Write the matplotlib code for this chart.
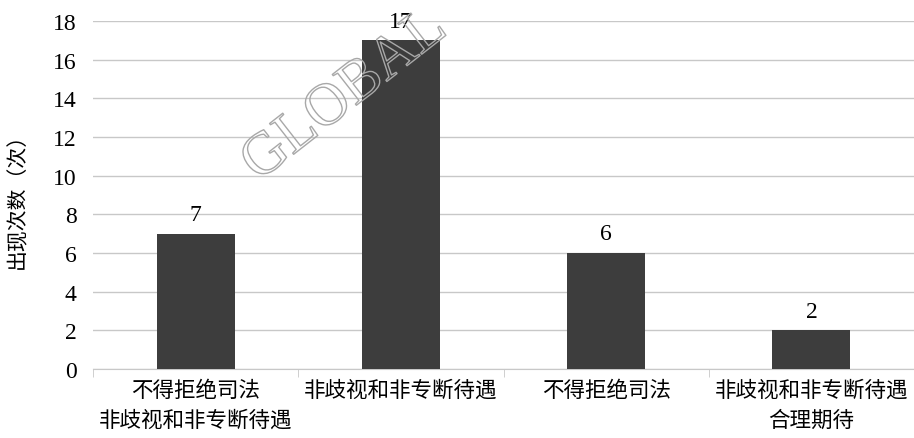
import matplotlib
matplotlib.use('Agg')
import matplotlib.pyplot as plt
import matplotlib.patheffects as pe

# chart data
categories = ['不得拒绝司法\n非歧视和非专断待遇', '非歧视和非专断待遇', '不得拒绝司法', '非歧视和非专断待遇\n合理期待']
counts = [7, 17, 6, 2]
yticks = list(range(0, 20, 2))

cjk = ['Noto Sans CJK SC', 'DejaVu Sans']
serif = ['Liberation Serif', 'DejaVu Serif']

fig = plt.figure(figsize=(9.14, 4.39), dpi=100)
ax = fig.add_axes([0.102, 0.157, 0.898, 0.793])

x = list(range(len(categories)))
ax.bar(x, counts, width=0.38, color='#3d3d3d', zorder=3)
for xi, v in zip(x, counts):
    ax.text(xi, v + 0.45, str(v), ha='center', va='bottom', fontsize=17, family=serif, zorder=4)

ax.set_xlim(-0.5, len(categories) - 0.5)
ax.set_ylim(0, 18)
ax.set_yticks(yticks)
ax.set_yticklabels([str(t) for t in yticks], family=serif, fontsize=17)
ax.yaxis.grid(True, color='#c8c8c8', linewidth=1, zorder=0)
ax.tick_params(axis='y', length=0, pad=12)

# category labels under each bar, ticks on the boundaries
ax.set_xticks(x)
ax.set_xticklabels(categories, family=cjk, fontsize=15.5, linespacing=1.45)
ax.tick_params(axis='x', length=0, pad=7)
ax.set_xticks([i - 0.5 for i in range(len(categories) + 1)], minor=True)
ax.tick_params(axis='x', which='minor', length=6, color='#c8c8c8')

for s in ['top', 'right', 'left']:
    ax.spines[s].set_visible(False)
ax.spines['bottom'].set_color('#c8c8c8')

ax.set_ylabel('出现次数（次）', family=cjk, fontsize=15, labelpad=18)

# faint outlined watermark
wm = fig.text(0.255, 0.56, 'GLOBAL', fontsize=43, family=serif, rotation=38,
              color='none', ha='left', va='bottom', zorder=10)
wm.set_path_effects([pe.withStroke(linewidth=1.0, foreground='#a8a8a8')])

fig.savefig('out.png', dpi=100)
